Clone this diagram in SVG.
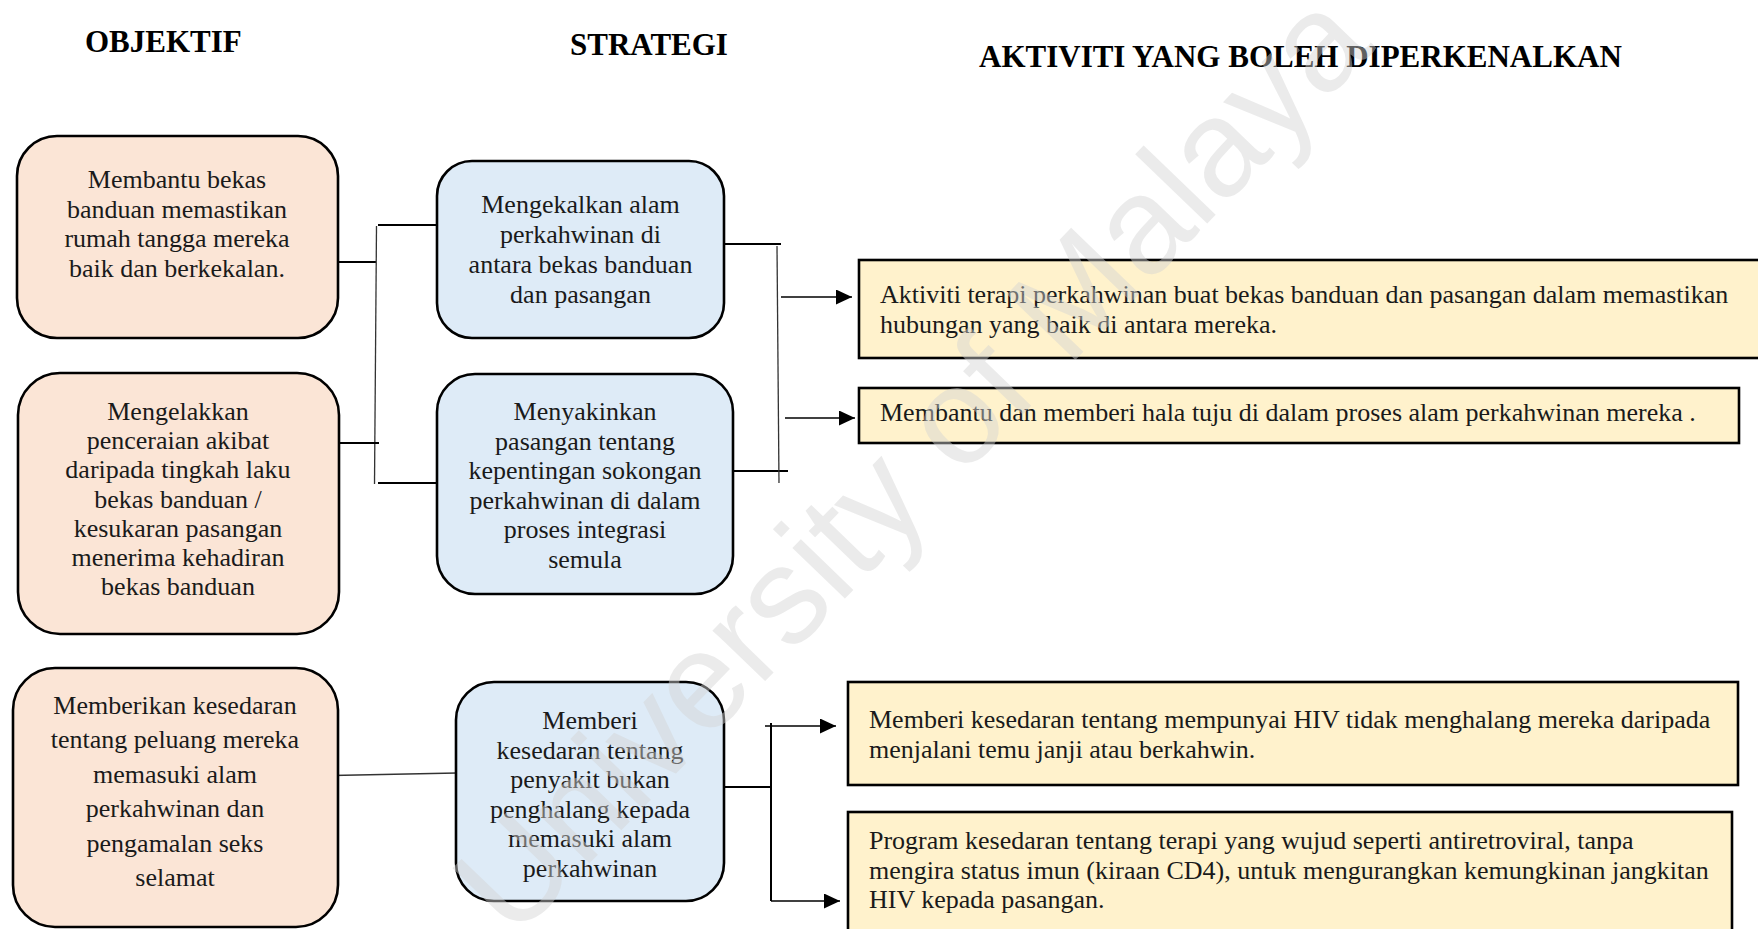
<svg xmlns="http://www.w3.org/2000/svg" width="1758" height="929" viewBox="0 0 1758 929">
<defs>
<style>
.t{font-family:"Liberation Serif","Times New Roman",serif;font-size:26px;fill:#1a1a1a}
.c{text-anchor:middle}
.h{font-family:"Liberation Serif","Times New Roman",serif;font-size:31px;font-weight:bold;fill:#000}
.obj{fill:#fbe5d6;stroke:#000;stroke-width:2.6}
.str{fill:#deebf7;stroke:#000;stroke-width:2.6}
.act{fill:#fff2cc;stroke:#000;stroke-width:2.6}
.ln{stroke:#000;stroke-width:2;fill:none}
.lt{stroke:#333;stroke-width:1.3;fill:none}
.ar{stroke:#000;stroke-width:1.4;fill:none;marker-end:url(#ah)}
.wm{font-family:"Liberation Sans",Arial,sans-serif;font-size:138px;fill:#d4d4d4;opacity:0.45}
</style>
<marker id="ah" markerUnits="userSpaceOnUse" markerWidth="16" markerHeight="15" refX="16" refY="7.5" orient="auto">
<path d="M0,0 L16,7.5 L0,15 z" fill="#000"/>
</marker>
</defs>
<rect width="1758" height="929" fill="#fff"/>

<g id="titles">
<text class="h" x="85" y="52">OBJEKTIF</text>
<text class="h" x="570" y="55">STRATEGI</text>
<text class="h" x="979" y="67">AKTIVITI YANG BOLEH DIPERKENALKAN</text>
</g>

<g id="connectors">
<line class="ln" x1="313" y1="262" x2="376" y2="262"/>
<line class="lt" x1="376.5" y1="226" x2="374.5" y2="484"/>
<line class="ln" x1="378" y1="225" x2="437" y2="225"/>
<line class="ln" x1="378" y1="483" x2="438" y2="483"/>
<line class="ln" x1="318" y1="443" x2="379" y2="443"/>
<line class="ln" x1="721" y1="244" x2="781" y2="244"/>
<line class="ln" x1="728" y1="471" x2="788" y2="471"/>
<line class="lt" x1="777" y1="246" x2="779" y2="483"/>
<line class="ar" x1="781" y1="297" x2="852" y2="297"/>
<line class="ar" x1="785" y1="418" x2="855" y2="418"/>
<line class="lt" x1="307" y1="776" x2="457" y2="773"/>
<line class="ln" x1="724" y1="787" x2="771" y2="787"/>
<line class="ln" x1="771" y1="723" x2="771" y2="901"/>
<line class="ar" x1="765" y1="726" x2="836" y2="726"/>
<line class="ar" x1="771" y1="901" x2="840" y2="901"/>
</g>

<g id="obj1">
<rect class="obj" x="17" y="136" width="321" height="202" rx="40"/>
<text class="t c"><tspan x="177" y="188">Membantu bekas</tspan><tspan x="177" y="217.6">banduan memastikan</tspan><tspan x="177" y="247.2">rumah tangga mereka</tspan><tspan x="177" y="276.8">baik  dan berkekalan.</tspan></text>
</g>

<g id="obj2">
<rect class="obj" x="18" y="373" width="321" height="261" rx="42"/>
<text class="t c"><tspan x="178" y="420">Mengelakkan</tspan><tspan x="178" y="449.2">penceraian akibat</tspan><tspan x="178" y="478.4">daripada tingkah laku</tspan><tspan x="178" y="507.6">bekas banduan /</tspan><tspan x="178" y="536.8">kesukaran pasangan</tspan><tspan x="178" y="566">menerima kehadiran</tspan><tspan x="178" y="595.2">bekas banduan</tspan></text>
</g>

<g id="obj3">
<rect class="obj" x="13" y="668" width="325" height="259" rx="42"/>
<text class="t c"><tspan x="175" y="714">Memberikan kesedaran</tspan><tspan x="175" y="748.4">tentang peluang mereka</tspan><tspan x="175" y="782.8">memasuki alam</tspan><tspan x="175" y="817.2">perkahwinan dan</tspan><tspan x="175" y="851.6">pengamalan seks</tspan><tspan x="175" y="886">selamat</tspan></text>
</g>

<g id="strA">
<rect class="str" x="437" y="161" width="287" height="177" rx="35"/>
<text class="t c"><tspan x="580.5" y="213">Mengekalkan alam</tspan><tspan x="580.5" y="243">perkahwinan di</tspan><tspan x="580.5" y="273">antara bekas banduan</tspan><tspan x="580.5" y="303">dan pasangan</tspan></text>
</g>

<g id="strB">
<rect class="str" x="437" y="374" width="296" height="220" rx="38"/>
<text class="t c"><tspan x="585" y="420">Menyakinkan</tspan><tspan x="585" y="449.6">pasangan tentang</tspan><tspan x="585" y="479.2">kepentingan sokongan</tspan><tspan x="585" y="508.8">perkahwinan di dalam</tspan><tspan x="585" y="538.4">proses integrasi</tspan><tspan x="585" y="568">semula</tspan></text>
</g>

<g id="strC">
<rect class="str" x="456" y="682" width="268" height="219" rx="38"/>
<text class="t c"><tspan x="590" y="729">Memberi</tspan><tspan x="590" y="758.5">kesedaran tentang</tspan><tspan x="590" y="788">penyakit bukan</tspan><tspan x="590" y="817.5">penghalang kepada</tspan><tspan x="590" y="847">memasuki alam</tspan><tspan x="590" y="876.5">perkahwinan</tspan></text>
</g>

<g id="actP">
<rect class="act" x="859" y="260" width="910" height="98"/>
<text class="t"><tspan x="880" y="303">Aktiviti terapi perkahwinan buat bekas banduan dan pasangan dalam memastikan</tspan><tspan x="880" y="333">hubungan yang baik di antara mereka.</tspan></text>
</g>

<g id="actQ">
<rect class="act" x="859" y="388" width="880" height="55"/>
<text class="t" x="880" y="421">Membantu dan memberi hala tuju di dalam proses alam perkahwinan mereka .</text>
</g>

<g id="actR">
<rect class="act" x="848" y="682" width="890" height="103"/>
<text class="t"><tspan x="869" y="728">Memberi kesedaran tentang mempunyai HIV tidak menghalang mereka daripada</tspan><tspan x="869" y="758">menjalani temu janji atau berkahwin.</tspan></text>
</g>

<g id="actS">
<rect class="act" x="848" y="812" width="884" height="130"/>
<text class="t"><tspan x="869" y="849">Program kesedaran tentang terapi yang wujud seperti antiretroviral, tanpa</tspan><tspan x="869" y="879">mengira status imun (kiraan CD4), untuk mengurangkan kemungkinan jangkitan</tspan><tspan x="869" y="908">HIV kepada pasangan.</tspan></text>
</g>

<g id="watermark">
<text class="wm" x="0" y="0" text-anchor="middle" transform="translate(945,495) rotate(-46)">University of Malaya</text>
</g>
</svg>
